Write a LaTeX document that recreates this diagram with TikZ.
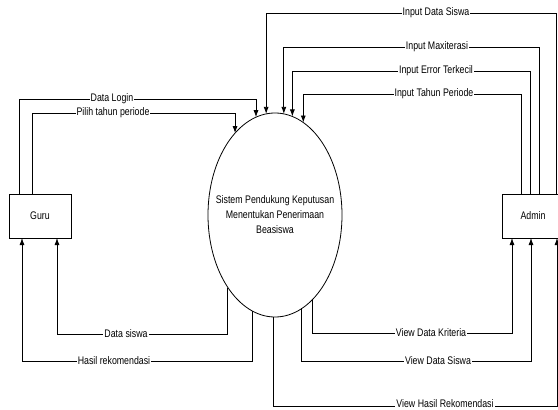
\documentclass[tikz,border=0pt]{standalone}
\usepackage{fontspec}
\setmainfont{Liberation Sans}[FakeStretch=0.8]
\usetikzlibrary{arrows.meta,shapes.geometric}
\begin{document}
\begin{tikzpicture}[x=1pt,y=-1pt,
  font=\fontsize{11}{15}\selectfont,
  line width=0.8pt,
  flow/.style={draw, -{Latex[length=7pt,width=5pt]}},
  entity/.style={draw, rectangle, minimum width=62pt, minimum height=44pt, inner sep=0pt, outer sep=0pt},
  proc/.style={draw, ellipse, minimum width=134pt, minimum height=204pt, inner sep=0pt, outer sep=0pt},
  lbl/.style={fill=white, inner xsep=1pt, inner ysep=0pt}]
\useasboundingbox (0,0) rectangle (558,410);
\clip (0,0) rectangle (558,410);

\node[proc] (sys) at (275,215) {};
\node[align=center] (systxt) at (sys.center) {Sistem Pendukung Keputusan\\Menentukan Penerimaan\\Beasiswa};
\node[entity] (guru) at (40,216) {Guru};
\node[entity] (admin) at (533,216) {Admin};

% Guru -> system
\draw[flow] ([xshift=10pt]guru.north west) |- (sys.101 |- 0,99) -- (sys.101);
\draw[flow] ([xshift=23pt]guru.north west) |- (sys.116.1 |- 0,113) -- (sys.116.1);
\node[lbl] at (112,99) {Data Login};
\node[lbl] at (113,113) {Pilih tahun periode};

% Admin -> system
\draw[flow] ([xshift=54pt]admin.north west) |- (sys.95.7 |- 0,13) -- (sys.95.7);
\draw[flow] ([xshift=37pt]admin.north west) |- (sys.85.5 |- 0,47) -- (sys.85.5);
\draw[flow] ([xshift=28pt]admin.north west) |- (sys.80.8 |- 0,71) -- (sys.80.8);
\draw[flow] ([xshift=19pt]admin.north west) |- (sys.73.9 |- 0,94) -- (sys.73.9);
\node[lbl] at (436,13) {Input Data Siswa};
\node[lbl] at (437,47) {Input Maxiterasi};
\node[lbl] at (436,71) {Input Error Terkecil};
\node[lbl] at (434,94) {Input Tahun Periode};

% system -> Guru
\draw[flow] (sys.237.1) -- (sys.237.1 |- 0,334) -| ([xshift=48pt]guru.south west);
\draw[flow] (sys.257.8) -- (sys.257.8 |- 0,361) -| ([xshift=13pt]guru.south west);
\node[lbl] at (126,334) {Data siswa};
\node[lbl] at (114,361) {Hasil rekomendasi};

% system -> Admin
\draw[flow] (sys.294.3) -- (sys.294.3 |- 0,333) -| ([xshift=10pt]admin.south west);
\draw[flow] (sys.286.1) -- (sys.286.1 |- 0,361) -| ([xshift=29pt]admin.south west);
\draw[flow] (sys.269.4) -- (sys.269.4 |- 0,406) -| ([xshift=55pt]admin.south west);
\node[lbl] at (431,333) {View Data Kriteria};
\node[lbl] at (438,361) {View Data Siswa};
\node[lbl] at (445,404) {View Hasil Rekomendasi};
\end{tikzpicture}
\end{document}
